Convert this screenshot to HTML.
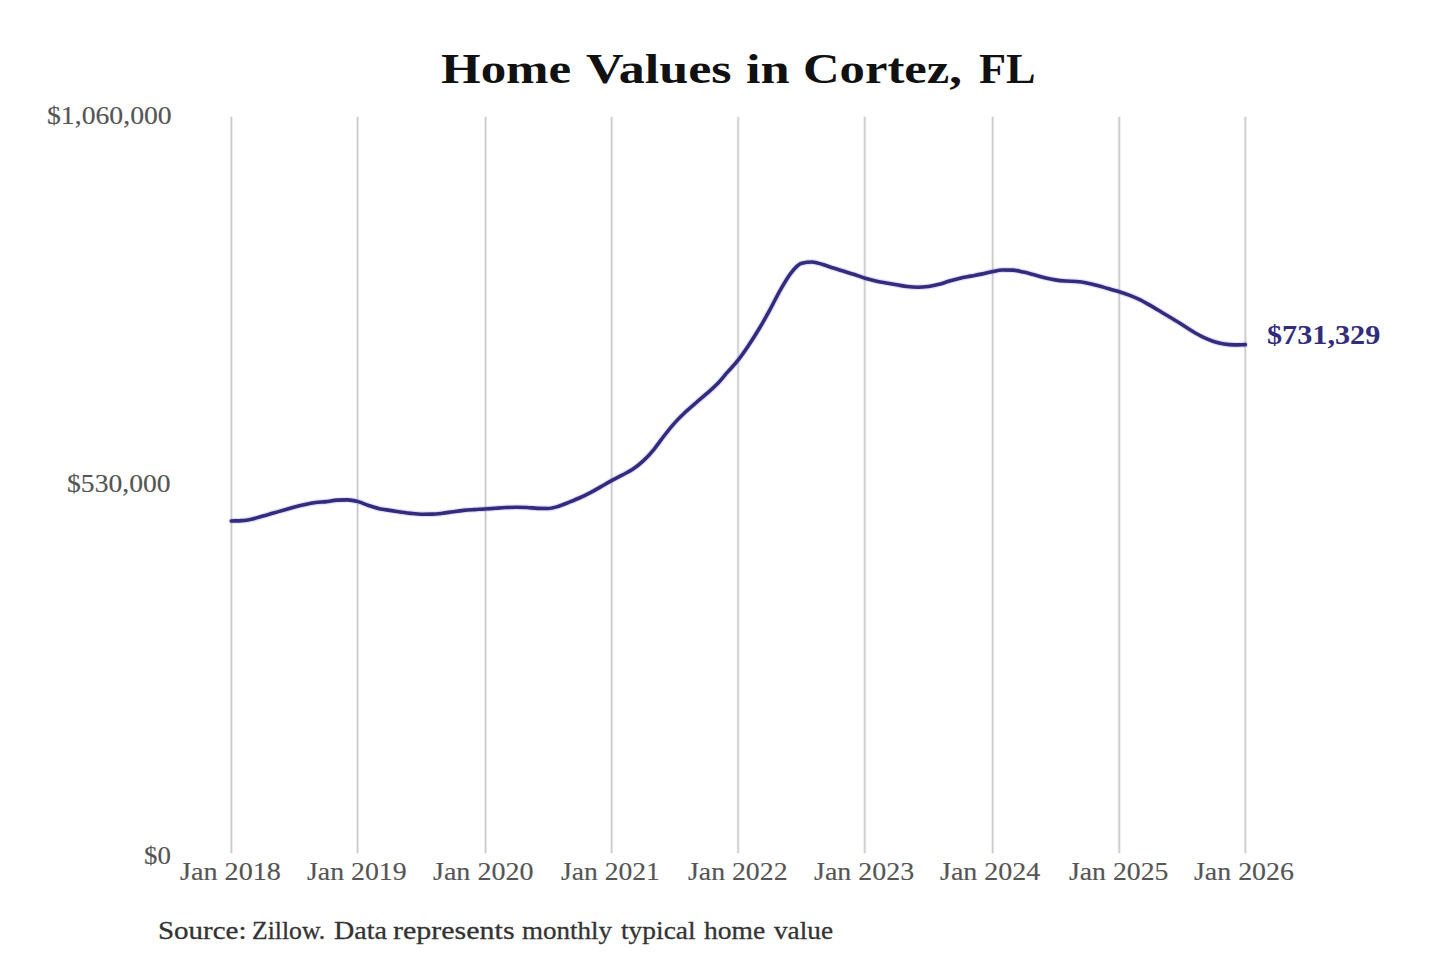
<!DOCTYPE html>
<html><head><meta charset="utf-8"><style>
html,body{margin:0;padding:0;background:#fff;width:1440px;height:960px;overflow:hidden}
#c{position:relative;width:1440px;height:960px;}
svg{position:absolute;left:0;top:0}
span{position:absolute;white-space:nowrap;font-family:"Liberation Serif",serif;transform-origin:0 0}
.r{-webkit-text-stroke:0.15px currentColor}.s{-webkit-text-stroke:0.3px currentColor}
</style></head><body><div id="c">
<svg width="1440" height="960" viewBox="0 0 1440 960">
<g stroke="rgba(0,0,0,0.085)" stroke-width="3" fill="none"><line x1="231.4" y1="116.8" x2="231.4" y2="853.3"/><line x1="357.6" y1="116.8" x2="357.6" y2="853.3"/><line x1="485.6" y1="116.8" x2="485.6" y2="853.3"/><line x1="611.7" y1="116.8" x2="611.7" y2="853.3"/><line x1="738.1" y1="116.8" x2="738.1" y2="853.3"/><line x1="864.8" y1="116.8" x2="864.8" y2="853.3"/><line x1="992.7" y1="116.8" x2="992.7" y2="853.3"/><line x1="1119.2" y1="116.8" x2="1119.2" y2="853.3"/><line x1="1245.3" y1="116.8" x2="1245.3" y2="853.3"/></g>
<g stroke="#c6c6c6" stroke-width="1" fill="none"><line x1="231.4" y1="116.8" x2="231.4" y2="853.3"/><line x1="357.6" y1="116.8" x2="357.6" y2="853.3"/><line x1="485.6" y1="116.8" x2="485.6" y2="853.3"/><line x1="611.7" y1="116.8" x2="611.7" y2="853.3"/><line x1="738.1" y1="116.8" x2="738.1" y2="853.3"/><line x1="864.8" y1="116.8" x2="864.8" y2="853.3"/><line x1="992.7" y1="116.8" x2="992.7" y2="853.3"/><line x1="1119.2" y1="116.8" x2="1119.2" y2="853.3"/><line x1="1245.3" y1="116.8" x2="1245.3" y2="853.3"/></g>
<path d="M231.30,520.95 C234.82,520.84 238.34,520.84 241.86,520.63 C245.38,520.42 248.90,519.70 252.43,518.95 C255.95,518.19 259.47,517.08 262.99,516.08 C266.51,515.09 270.03,514.00 273.55,513.00 C277.07,512.01 280.59,511.10 284.11,510.10 C287.63,509.10 291.15,507.95 294.68,507.01 C298.20,506.08 301.72,505.21 305.24,504.48 C308.76,503.74 312.28,503.07 315.80,502.59 C319.32,502.12 322.84,502.03 326.36,501.62 C329.88,501.22 333.40,500.37 336.93,500.16 C340.45,499.94 343.97,499.84 347.49,499.84 C351.01,499.84 354.53,500.69 358.05,501.62 C361.57,502.56 365.09,504.28 368.61,505.45 C372.13,506.61 375.65,507.81 379.18,508.63 C382.70,509.44 386.22,509.80 389.74,510.35 C393.26,510.89 396.78,511.43 400.30,511.93 C403.82,512.43 407.34,512.97 410.86,513.35 C414.38,513.74 417.90,514.24 421.43,514.24 C424.95,514.24 428.47,514.21 431.99,514.16 C435.51,514.11 439.03,513.64 442.55,513.24 C446.07,512.83 449.59,512.19 453.11,511.72 C456.63,511.24 460.15,510.73 463.68,510.37 C467.20,510.02 470.72,509.82 474.24,509.59 C477.76,509.37 481.28,509.27 484.80,509.05 C488.32,508.82 491.84,508.51 495.36,508.26 C498.88,508.01 502.40,507.73 505.93,507.55 C509.45,507.38 512.97,507.19 516.49,507.19 C520.01,507.19 523.53,507.29 527.05,507.48 C530.57,507.67 534.09,508.26 537.61,508.35 C541.13,508.44 544.65,508.48 548.17,508.48 C551.70,508.48 555.22,507.26 558.74,506.21 C562.26,505.15 565.78,503.56 569.30,502.15 C572.82,500.74 576.34,499.34 579.86,497.75 C583.38,496.16 586.90,494.46 590.42,492.60 C593.95,490.74 597.47,488.59 600.99,486.61 C604.51,484.62 608.03,482.58 611.55,480.67 C615.07,478.75 618.59,477.01 622.11,475.12 C625.63,473.22 629.15,471.66 632.67,469.30 C636.20,466.93 639.72,464.22 643.24,460.93 C646.76,457.64 650.28,453.78 653.80,449.54 C657.32,445.31 660.84,439.99 664.36,435.51 C667.88,431.03 671.40,426.58 674.92,422.67 C678.45,418.76 681.97,415.37 685.49,412.05 C689.01,408.72 692.53,405.79 696.05,402.74 C699.57,399.68 703.09,396.83 706.61,393.72 C710.13,390.61 713.65,387.72 717.17,384.08 C720.70,380.43 724.22,375.90 727.74,371.87 C731.26,367.84 734.78,364.40 738.30,359.91 C741.82,355.42 745.34,350.22 748.86,344.94 C752.38,339.65 755.90,334.11 759.42,328.21 C762.95,322.30 766.47,315.94 769.99,309.52 C773.51,303.09 777.03,295.77 780.55,289.65 C784.07,283.53 787.59,277.17 791.11,272.78 C794.63,268.39 798.15,264.24 801.67,263.32 C805.20,262.39 808.72,261.93 812.24,261.93 C815.76,261.93 819.28,263.56 822.80,264.58 C826.32,265.61 829.84,266.98 833.36,268.08 C836.88,269.19 840.40,270.16 843.92,271.23 C847.45,272.30 850.97,273.35 854.49,274.51 C858.01,275.67 861.53,277.15 865.05,278.22 C868.57,279.28 872.09,280.13 875.61,280.91 C879.13,281.69 882.65,282.26 886.17,282.90 C889.70,283.54 893.22,284.15 896.74,284.76 C900.26,285.38 903.78,286.17 907.30,286.58 C910.82,286.99 914.34,287.22 917.86,287.22 C921.38,287.22 924.90,286.92 928.42,286.44 C931.95,285.96 935.47,285.26 938.99,284.35 C942.51,283.45 946.03,282.04 949.55,281.01 C953.07,279.98 956.59,279.00 960.11,278.18 C963.63,277.37 967.15,276.80 970.67,276.12 C974.20,275.45 977.72,274.86 981.24,274.13 C984.76,273.41 988.28,272.45 991.80,271.76 C995.32,271.08 998.84,270.01 1002.36,270.01 C1005.88,270.01 1009.40,270.04 1012.92,270.08 C1016.45,270.12 1019.97,271.32 1023.49,272.11 C1027.01,272.90 1030.53,273.88 1034.05,274.81 C1037.57,275.74 1041.09,276.83 1044.61,277.67 C1048.13,278.51 1051.65,279.30 1055.17,279.86 C1058.70,280.42 1062.22,280.77 1065.74,281.05 C1069.26,281.32 1072.78,281.21 1076.30,281.52 C1079.82,281.84 1083.34,282.31 1086.86,282.97 C1090.38,283.63 1093.90,284.55 1097.42,285.48 C1100.95,286.41 1104.47,287.54 1107.99,288.55 C1111.51,289.57 1115.03,290.47 1118.55,291.57 C1122.07,292.66 1125.59,293.78 1129.11,295.12 C1132.63,296.46 1136.15,297.89 1139.67,299.61 C1143.20,301.33 1146.72,303.42 1150.24,305.43 C1153.76,307.44 1157.28,309.57 1160.80,311.68 C1164.32,313.79 1167.84,315.93 1171.36,318.07 C1174.88,320.20 1178.40,322.29 1181.92,324.49 C1185.45,326.69 1188.97,329.17 1192.49,331.28 C1196.01,333.39 1199.53,335.48 1203.05,337.17 C1206.57,338.86 1210.09,340.29 1213.61,341.44 C1217.13,342.58 1220.65,343.49 1224.17,344.05 C1227.70,344.62 1231.22,344.90 1234.74,344.90 C1238.26,344.90 1241.78,344.70 1245.30,344.59" fill="none" stroke="rgba(125,105,255,0.22)" stroke-width="6" stroke-linejoin="round" stroke-linecap="round"/>
<path d="M231.30,520.95 C234.82,520.84 238.34,520.84 241.86,520.63 C245.38,520.42 248.90,519.70 252.43,518.95 C255.95,518.19 259.47,517.08 262.99,516.08 C266.51,515.09 270.03,514.00 273.55,513.00 C277.07,512.01 280.59,511.10 284.11,510.10 C287.63,509.10 291.15,507.95 294.68,507.01 C298.20,506.08 301.72,505.21 305.24,504.48 C308.76,503.74 312.28,503.07 315.80,502.59 C319.32,502.12 322.84,502.03 326.36,501.62 C329.88,501.22 333.40,500.37 336.93,500.16 C340.45,499.94 343.97,499.84 347.49,499.84 C351.01,499.84 354.53,500.69 358.05,501.62 C361.57,502.56 365.09,504.28 368.61,505.45 C372.13,506.61 375.65,507.81 379.18,508.63 C382.70,509.44 386.22,509.80 389.74,510.35 C393.26,510.89 396.78,511.43 400.30,511.93 C403.82,512.43 407.34,512.97 410.86,513.35 C414.38,513.74 417.90,514.24 421.43,514.24 C424.95,514.24 428.47,514.21 431.99,514.16 C435.51,514.11 439.03,513.64 442.55,513.24 C446.07,512.83 449.59,512.19 453.11,511.72 C456.63,511.24 460.15,510.73 463.68,510.37 C467.20,510.02 470.72,509.82 474.24,509.59 C477.76,509.37 481.28,509.27 484.80,509.05 C488.32,508.82 491.84,508.51 495.36,508.26 C498.88,508.01 502.40,507.73 505.93,507.55 C509.45,507.38 512.97,507.19 516.49,507.19 C520.01,507.19 523.53,507.29 527.05,507.48 C530.57,507.67 534.09,508.26 537.61,508.35 C541.13,508.44 544.65,508.48 548.17,508.48 C551.70,508.48 555.22,507.26 558.74,506.21 C562.26,505.15 565.78,503.56 569.30,502.15 C572.82,500.74 576.34,499.34 579.86,497.75 C583.38,496.16 586.90,494.46 590.42,492.60 C593.95,490.74 597.47,488.59 600.99,486.61 C604.51,484.62 608.03,482.58 611.55,480.67 C615.07,478.75 618.59,477.01 622.11,475.12 C625.63,473.22 629.15,471.66 632.67,469.30 C636.20,466.93 639.72,464.22 643.24,460.93 C646.76,457.64 650.28,453.78 653.80,449.54 C657.32,445.31 660.84,439.99 664.36,435.51 C667.88,431.03 671.40,426.58 674.92,422.67 C678.45,418.76 681.97,415.37 685.49,412.05 C689.01,408.72 692.53,405.79 696.05,402.74 C699.57,399.68 703.09,396.83 706.61,393.72 C710.13,390.61 713.65,387.72 717.17,384.08 C720.70,380.43 724.22,375.90 727.74,371.87 C731.26,367.84 734.78,364.40 738.30,359.91 C741.82,355.42 745.34,350.22 748.86,344.94 C752.38,339.65 755.90,334.11 759.42,328.21 C762.95,322.30 766.47,315.94 769.99,309.52 C773.51,303.09 777.03,295.77 780.55,289.65 C784.07,283.53 787.59,277.17 791.11,272.78 C794.63,268.39 798.15,264.24 801.67,263.32 C805.20,262.39 808.72,261.93 812.24,261.93 C815.76,261.93 819.28,263.56 822.80,264.58 C826.32,265.61 829.84,266.98 833.36,268.08 C836.88,269.19 840.40,270.16 843.92,271.23 C847.45,272.30 850.97,273.35 854.49,274.51 C858.01,275.67 861.53,277.15 865.05,278.22 C868.57,279.28 872.09,280.13 875.61,280.91 C879.13,281.69 882.65,282.26 886.17,282.90 C889.70,283.54 893.22,284.15 896.74,284.76 C900.26,285.38 903.78,286.17 907.30,286.58 C910.82,286.99 914.34,287.22 917.86,287.22 C921.38,287.22 924.90,286.92 928.42,286.44 C931.95,285.96 935.47,285.26 938.99,284.35 C942.51,283.45 946.03,282.04 949.55,281.01 C953.07,279.98 956.59,279.00 960.11,278.18 C963.63,277.37 967.15,276.80 970.67,276.12 C974.20,275.45 977.72,274.86 981.24,274.13 C984.76,273.41 988.28,272.45 991.80,271.76 C995.32,271.08 998.84,270.01 1002.36,270.01 C1005.88,270.01 1009.40,270.04 1012.92,270.08 C1016.45,270.12 1019.97,271.32 1023.49,272.11 C1027.01,272.90 1030.53,273.88 1034.05,274.81 C1037.57,275.74 1041.09,276.83 1044.61,277.67 C1048.13,278.51 1051.65,279.30 1055.17,279.86 C1058.70,280.42 1062.22,280.77 1065.74,281.05 C1069.26,281.32 1072.78,281.21 1076.30,281.52 C1079.82,281.84 1083.34,282.31 1086.86,282.97 C1090.38,283.63 1093.90,284.55 1097.42,285.48 C1100.95,286.41 1104.47,287.54 1107.99,288.55 C1111.51,289.57 1115.03,290.47 1118.55,291.57 C1122.07,292.66 1125.59,293.78 1129.11,295.12 C1132.63,296.46 1136.15,297.89 1139.67,299.61 C1143.20,301.33 1146.72,303.42 1150.24,305.43 C1153.76,307.44 1157.28,309.57 1160.80,311.68 C1164.32,313.79 1167.84,315.93 1171.36,318.07 C1174.88,320.20 1178.40,322.29 1181.92,324.49 C1185.45,326.69 1188.97,329.17 1192.49,331.28 C1196.01,333.39 1199.53,335.48 1203.05,337.17 C1206.57,338.86 1210.09,340.29 1213.61,341.44 C1217.13,342.58 1220.65,343.49 1224.17,344.05 C1227.70,344.62 1231.22,344.90 1234.74,344.90 C1238.26,344.90 1241.78,344.70 1245.30,344.59" fill="none" stroke="#322c7a" stroke-width="3.6" stroke-linejoin="round" stroke-linecap="round"/>
</svg>
<span style="left:440.81px;top:47.19px;font-size:43.0px;line-height:43.0px;font-weight:700;color:#111;transform:scaleX(1.1852)">Home</span>
<span style="left:585.79px;top:47.19px;font-size:43.0px;line-height:43.0px;font-weight:700;color:#111;transform:scaleX(1.2101)">Values</span>
<span style="left:746.38px;top:47.19px;font-size:43.0px;line-height:43.0px;font-weight:700;color:#111;transform:scaleX(1.2175)">in</span>
<span style="left:803.49px;top:47.19px;font-size:43.0px;line-height:43.0px;font-weight:700;color:#111;transform:scaleX(1.1790)">Cortez,</span>
<span style="left:979.23px;top:47.19px;font-size:43.0px;line-height:43.0px;font-weight:700;color:#111;transform:scaleX(1.0291)">FL</span>
<span class="r" style="left:46.58px;top:102.95px;font-size:25.5px;line-height:25.5px;font-weight:400;color:#555;transform:scaleX(1.0868)">$1,060,000</span>
<span class="r" style="left:67.08px;top:471.15px;font-size:25.5px;line-height:25.5px;font-weight:400;color:#555;transform:scaleX(1.0834)">$530,000</span>
<span class="r" style="left:144.12px;top:842.85px;font-size:25.5px;line-height:25.5px;font-weight:400;color:#555;transform:scaleX(1.0524)">$0</span>
<span class="r" style="left:179.85px;top:859.05px;font-size:25.5px;line-height:25.5px;font-weight:400;color:#555;transform:scaleX(1.1049)">Jan 2018</span>
<span class="r" style="left:307.05px;top:859.05px;font-size:25.5px;line-height:25.5px;font-weight:400;color:#555;transform:scaleX(1.0904)">Jan 2019</span>
<span class="r" style="left:432.75px;top:859.05px;font-size:25.5px;line-height:25.5px;font-weight:400;color:#555;transform:scaleX(1.0993)">Jan 2020</span>
<span class="r" style="left:561.16px;top:859.05px;font-size:25.5px;line-height:25.5px;font-weight:400;color:#555;transform:scaleX(1.0808)">Jan 2021</span>
<span class="r" style="left:687.56px;top:859.05px;font-size:25.5px;line-height:25.5px;font-weight:400;color:#555;transform:scaleX(1.0894)">Jan 2022</span>
<span class="r" style="left:813.85px;top:859.05px;font-size:25.5px;line-height:25.5px;font-weight:400;color:#555;transform:scaleX(1.0960)">Jan 2023</span>
<span class="r" style="left:939.85px;top:859.05px;font-size:25.5px;line-height:25.5px;font-weight:400;color:#555;transform:scaleX(1.0972)">Jan 2024</span>
<span class="r" style="left:1068.56px;top:859.05px;font-size:25.5px;line-height:25.5px;font-weight:400;color:#555;transform:scaleX(1.0882)">Jan 2025</span>
<span class="r" style="left:1194.35px;top:859.05px;font-size:25.5px;line-height:25.5px;font-weight:400;color:#555;transform:scaleX(1.0940)">Jan 2026</span>
<span class="s" style="left:157.51px;top:917.85px;font-size:25.5px;line-height:25.5px;font-weight:400;color:#333;transform:scaleX(1.1366)">Source:</span>
<span class="s" style="left:252.04px;top:917.85px;font-size:25.5px;line-height:25.5px;font-weight:400;color:#333;transform:scaleX(1.0079)">Zillow.</span>
<span class="s" style="left:333.57px;top:917.85px;font-size:25.5px;line-height:25.5px;font-weight:400;color:#333;transform:scaleX(1.1000)">Data</span>
<span class="s" style="left:393.11px;top:917.85px;font-size:25.5px;line-height:25.5px;font-weight:400;color:#333;transform:scaleX(1.1760)">represents</span>
<span class="s" style="left:522.47px;top:917.85px;font-size:25.5px;line-height:25.5px;font-weight:400;color:#333;transform:scaleX(1.0596)">monthly</span>
<span class="s" style="left:621.03px;top:917.85px;font-size:25.5px;line-height:25.5px;font-weight:400;color:#333;transform:scaleX(1.0754)">typical</span>
<span class="s" style="left:704.33px;top:917.85px;font-size:25.5px;line-height:25.5px;font-weight:400;color:#333;transform:scaleX(1.0793)">home</span>
<span class="s" style="left:774.10px;top:917.85px;font-size:25.5px;line-height:25.5px;font-weight:400;color:#333;transform:scaleX(1.0685)">value</span>
<span style="left:1267.46px;top:321.71px;font-size:26.5px;line-height:26.5px;font-weight:700;color:#322c7a;transform:scaleX(1.1399)">$731,329</span>
</div></body></html>
